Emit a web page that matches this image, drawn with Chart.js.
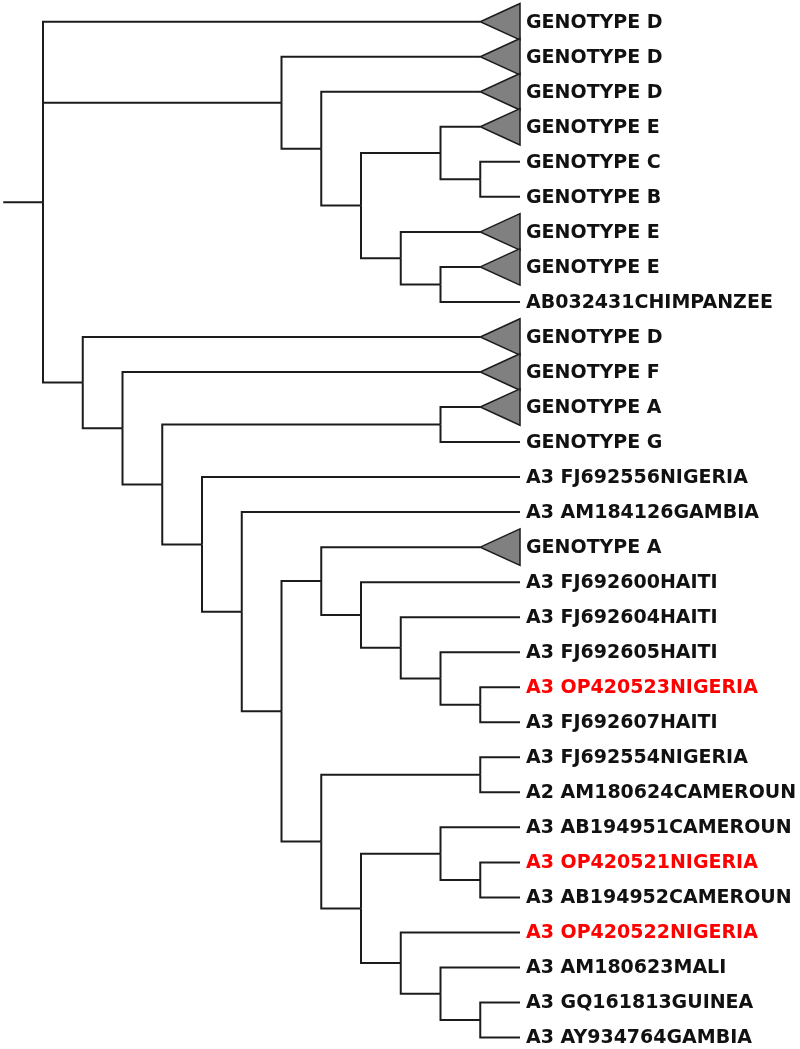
<!DOCTYPE html>
<html lang="en">
<head>
    <meta charset="UTF-8">
    <title>HBV phylogenetic tree</title>
    <style>
        html, body {
            margin: 0;
            padding: 0;
            background: #fff;
        }
        .chart-box {
            width: 800px;
            height: 1049px;
            position: relative;
        }
    </style>
    <script src="https://cdn.jsdelivr.net/npm/chart.js"></script>
</head>
<body>
    <div class="chart-box">
        <canvas id="treeChart"></canvas>
    </div>
    <script>
        // leaf labels, top to bottom
        const leafNames = [
            'GENOTYPE D', 'GENOTYPE D', 'GENOTYPE D', 'GENOTYPE E', 'GENOTYPE C',
            'GENOTYPE B', 'GENOTYPE E', 'GENOTYPE E', 'AB032431CHIMPANZEE', 'GENOTYPE D',
            'GENOTYPE F', 'GENOTYPE A', 'GENOTYPE G', 'A3 FJ692556NIGERIA', 'A3 AM184126GAMBIA',
            'GENOTYPE A', 'A3 FJ692600HAITI', 'A3 FJ692604HAITI', 'A3 FJ692605HAITI', 'A3 OP420523NIGERIA',
            'A3 FJ692607HAITI', 'A3 FJ692554NIGERIA', 'A2 AM180624CAMEROUN', 'A3 AB194951CAMEROUN', 'A3 OP420521NIGERIA',
            'A3 AB194952CAMEROUN', 'A3 OP420522NIGERIA', 'A3 AM180623MALI', 'A3 GQ161813GUINEA', 'A3 AY934764GAMBIA'
        ];
        // leaves drawn as collapsed clades (triangles)
        const collapsedLeaves = [0, 1, 2, 3, 6, 7, 9, 10, 11, 15];
        // leaves from this study (red)
        const highlightLeaves = [19, 24, 26];
        // topology, leaves referenced by index
        const cladeA = [1, [2, [[3, [4, 5]], [6, [7, 8]]]]];
        const cladeHaiti = [15, [16, [17, [18, [19, 20]]]]];
        const cladeWestAfrica = [[21, 22], [[23, [24, 25]], [26, [27, [28, 29]]]]];
        const cladeB = [9, [10, [[11, 12], [13, [14, [cladeHaiti, cladeWestAfrica]]]]]];
        const topology = [0, cladeA, cladeB];

        // --- layout: x = depth from tips (cladogram), y = mean of outer children
        function height(n) {
            if (!Array.isArray(n)) return collapsedLeaves.includes(n) ? 1 : 0;
            return 1 + Math.max(...n.map(height));
        }
        const maxH = height(topology);
        const segments = [];
        function layout(n) {
            if (!Array.isArray(n)) return { x: maxH - height(n), y: n };
            const kids = n.map(layout);
            const node = { x: maxH - height(n), y: (kids[0].y + kids[kids.length - 1].y) / 2 };
            kids.forEach(k => {
                segments.push([{ x: node.x, y: node.y }, { x: node.x, y: k.y }, { x: k.x, y: k.y }]);
            });
            return node;
        }
        const root = layout(topology);
        segments.push([{ x: root.x - 1, y: root.y }, { x: root.x, y: root.y }]);

        const datasets = segments.map(pts => ({
            data: pts,
            showLine: true,
            borderColor: '#1c1c1c',
            borderWidth: 2,
            pointRadius: 0,
            fill: false,
            clip: false
        }));

        const tipsPlugin = {
            id: 'tips',
            afterDatasetsDraw(chart) {
                const { ctx, scales: { x, y } } = chart;
                ctx.save();
                collapsedLeaves.forEach(i => {
                    ctx.beginPath();
                    ctx.moveTo(x.getPixelForValue(maxH - 1), y.getPixelForValue(i));
                    ctx.lineTo(x.getPixelForValue(maxH), y.getPixelForValue(i - 0.52));
                    ctx.lineTo(x.getPixelForValue(maxH), y.getPixelForValue(i + 0.52));
                    ctx.closePath();
                    ctx.fillStyle = '#808080';
                    ctx.fill();
                    ctx.strokeStyle = '#1c1c1c';
                    ctx.lineWidth = 1.5;
                    ctx.stroke();
                });
                ctx.font = 'bold 19px "DejaVu Sans"';
                ctx.textBaseline = 'middle';
                ctx.textAlign = 'left';
                leafNames.forEach((name, i) => {
                    ctx.fillStyle = highlightLeaves.includes(i) ? '#ff0000' : '#111111';
                    ctx.fillText(name, x.getPixelForValue(maxH) + 6, y.getPixelForValue(i) + 1);
                });
                ctx.restore();
            }
        };

        new Chart(document.getElementById('treeChart'), {
            type: 'scatter',
            data: { datasets: datasets },
            options: {
                responsive: true,
                maintainAspectRatio: false,
                animation: false,
                layout: { padding: 0 },
                plugins: {
                    legend: { display: false },
                    tooltip: { enabled: false }
                },
                scales: {
                    x: { type: 'linear', display: false, min: -1.082, max: 19.044 },
                    y: { type: 'linear', display: false, reverse: true, min: -0.6195, max: 29.327 }
                }
            },
            plugins: [tipsPlugin]
        });
    </script>
</body>
</html>
